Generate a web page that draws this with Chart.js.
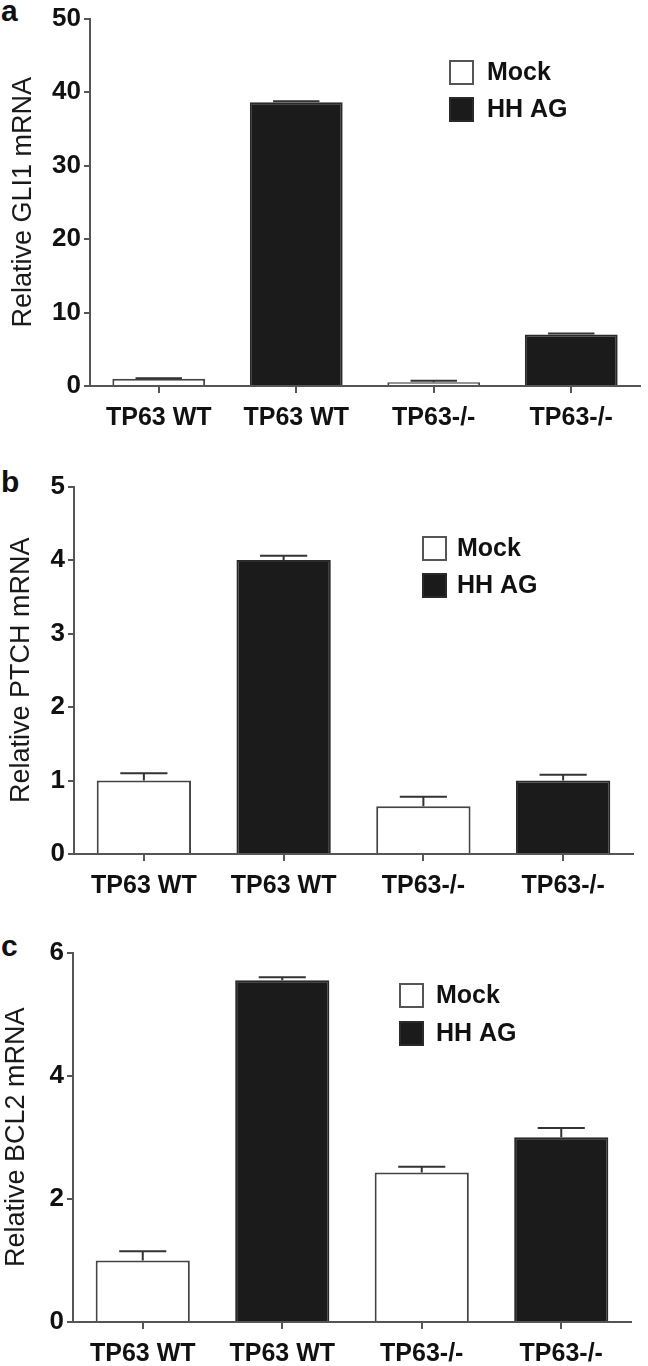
<!DOCTYPE html>
<html><head><meta charset="utf-8">
<script src="https://cdn.jsdelivr.net/npm/chart.js@4.4.1/dist/chart.umd.min.js"></script>
<style>
html,body{margin:0;padding:0;background:#fff;width:648px;height:1366px;overflow:hidden;}
canvas{position:absolute;left:0;}
.lbl{position:absolute;font-family:"Liberation Sans",Arial,sans-serif;font-weight:bold;font-size:30px;color:#111;line-height:30px;}
</style></head><body>
<div class="lbl" style="left:1px;top:-4px">a</div>
<div class="lbl" style="left:1px;top:467px">b</div>
<div class="lbl" style="left:1px;top:931px">c</div>
<canvas id="ca" width="648" height="430" style="top:0px"></canvas>
<canvas id="cb" width="648" height="430" style="top:468px"></canvas>
<canvas id="cc" width="648" height="432" style="top:934px"></canvas>
<script>
// ---- data ----
const categories = ['TP63 WT', 'TP63 WT', 'TP63-/-', 'TP63-/-'];
const seriesNames = ['Mock', 'HH AG'];

const gli1Mock    = [1.0, null, 0.5, null];
const gli1MockErr = [0.05, null, 0.2, null];
const gli1HH      = [null, 38.6, null, 7.0];
const gli1HHErr   = [null, 0.15, null, 0.15];
const gli1Ticks   = [0, 10, 20, 30, 40, 50];

const ptchMock    = [1.0, null, 0.65, null];
const ptchMockErr = [0.1, null, 0.13, null];
const ptchHH      = [null, 4.0, null, 1.0];
const ptchHHErr   = [null, 0.06, null, 0.08];
const ptchTicks   = [0, 1, 2, 3, 4, 5];

const bcl2Mock    = [1.0, null, 2.43, null];
const bcl2MockErr = [0.15, null, 0.09, null];
const bcl2HH      = [null, 5.55, null, 3.0];
const bcl2HHErr   = [null, 0.05, null, 0.15];
const bcl2Ticks   = [0, 2, 4, 6];

// ---- drawing ----
const FONT = '"Liberation Sans", Arial, Helvetica, sans-serif';
const AXIS = '#555';

const errorBarPlugin = {
  id: 'errorBars',
  afterDatasetsDraw(chart) {
    const ctx = chart.ctx;
    const y = chart.scales.y;
    chart.data.datasets.forEach((ds, di) => {
      const meta = chart.getDatasetMeta(di);
      meta.data.forEach((el, i) => {
        const v = ds.data[i];
        const e = ds.errors ? ds.errors[i] : null;
        if (v == null || e == null) return;
        const yTop = y.getPixelForValue(v + e);
        const half = el.width / 4;
        ctx.save();
        ctx.strokeStyle = '#333';
        ctx.lineWidth = 2;
        ctx.beginPath();
        ctx.moveTo(el.x, el.y);
        ctx.lineTo(el.x, yTop);
        ctx.moveTo(el.x - half, yTop);
        ctx.lineTo(el.x + half, yTop);
        ctx.stroke();
        ctx.restore();
      });
    });
  }
};

const legendPlugin = {
  id: 'boxLegend',
  afterDraw(chart, args, opts) {
    const ctx = chart.ctx;
    ctx.save();
    chart.data.datasets.forEach((ds, i) => {
      const bx = opts.x, by = opts.y + i * opts.rowGap, s = opts.box;
      ctx.fillStyle = ds.backgroundColor;
      ctx.fillRect(bx, by, s, s);
      ctx.strokeStyle = ds.legendBorder;
      ctx.lineWidth = 2;
      ctx.strokeRect(bx + 1, by + 1, s - 2, s - 2);
      ctx.fillStyle = '#111';
      ctx.font = 'bold 25px ' + FONT;
      ctx.textBaseline = 'middle';
      ctx.textAlign = 'left';
      ctx.fillText(ds.label, opts.textX, by + s / 2 + 1);
    });
    ctx.restore();
  }
};

function makePanel(id, p) {
  new Chart(document.getElementById(id), {
    type: 'bar',
    data: {
      labels: categories,
      datasets: [
        { label: seriesNames[0], data: p.mock, errors: p.mockErr,
          backgroundColor: '#ffffff', borderColor: '#444', legendBorder: '#555', borderWidth: 2 },
        { label: seriesNames[1], data: p.hh, errors: p.hhErr,
          backgroundColor: '#1b1b1b', borderColor: '#2a2a2a', legendBorder: '#2a2a2a', borderWidth: 2 }
      ]
    },
    options: {
      responsive: false,
      animation: false,
      devicePixelRatio: 1,
      categoryPercentage: 1.0,
      barPercentage: 0.675,
      layout: { padding: { top: 15, left: 0, right: p.padRight, bottom: 0 } },
      plugins: {
        legend: { display: false },
        tooltip: { enabled: false },
        boxLegend: p.legend
      },
      scales: {
        x: {
          stacked: true,
          afterFit: s => { s.height = 44; },
          border: { display: true, color: AXIS, width: 2 },
          grid: { drawOnChartArea: false, drawTicks: true, tickLength: 7, color: AXIS, lineWidth: 2, offset: false },
          ticks: { color: '#111', font: { family: FONT, size: 25, weight: 'bold' }, padding: 10, maxRotation: 0, autoSkip: false }
        },
        y: {
          min: 0, max: p.ticks[p.ticks.length - 1],
          afterBuildTicks: s => { s.ticks = p.ticks.map(v => ({ value: v })); },
          afterFit: s => { s.width = p.axisX; },
          border: { display: true, color: AXIS, width: 2 },
          grid: { drawOnChartArea: false, drawTicks: true, tickLength: 6, color: AXIS, lineWidth: 2 },
          ticks: { color: '#111', font: { family: FONT, size: 26, weight: 'bold' }, padding: 3 },
          title: { display: true, text: p.title, color: '#1a1a1a',
                   font: { family: FONT, size: 27, weight: 'normal' }, padding: { top: p.titlePad, bottom: 0 } }
        }
      }
    },
    plugins: [errorBarPlugin, legendPlugin]
  });
}

makePanel('ca', { mock: gli1Mock, mockErr: gli1MockErr, hh: gli1HH, hhErr: gli1HHErr, ticks: gli1Ticks,
  title: 'Relative GLI1 mRNA', axisX: 90, padRight: 8, titlePad: 7,
  legend: { x: 449, y: 60, rowGap: 37, box: 25, textX: 487 } });
makePanel('cb', { mock: ptchMock, mockErr: ptchMockErr, hh: ptchHH, hhErr: ptchHHErr, ticks: ptchTicks,
  title: 'Relative PTCH mRNA', axisX: 74, padRight: 15, titlePad: 5,
  legend: { x: 422, y: 68, rowGap: 37, box: 25, textX: 457 } });
makePanel('cc', { mock: bcl2Mock, mockErr: bcl2MockErr, hh: bcl2HH, hhErr: bcl2HHErr, ticks: bcl2Ticks,
  title: 'Relative BCL2 mRNA', axisX: 73, padRight: 17, titlePad: 0,
  legend: { x: 399, y: 49, rowGap: 38, box: 25, textX: 436 } });
</script>
</body></html>
